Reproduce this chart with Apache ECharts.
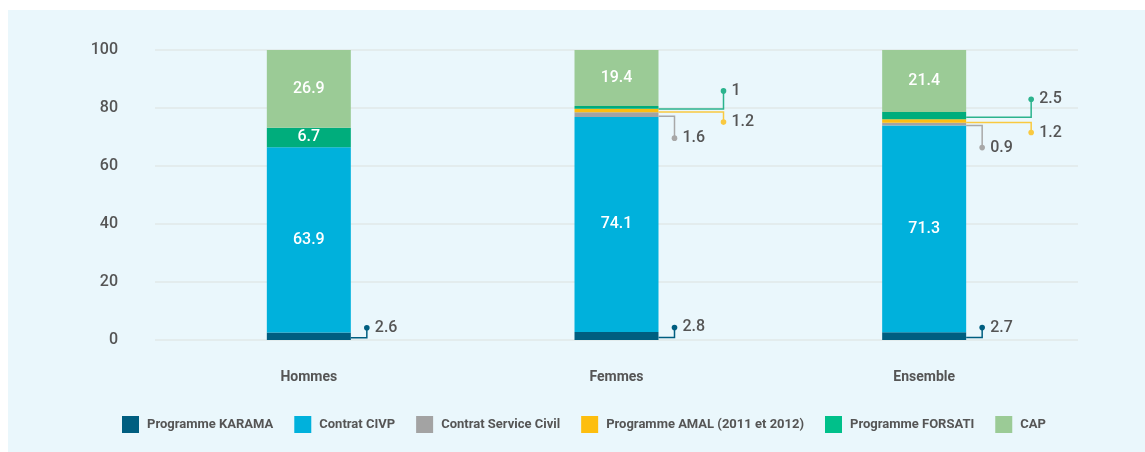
<!DOCTYPE html>
<html lang="fr">
<head>
<meta charset="UTF-8">
<title>Programmes</title>
<script src="https://cdn.jsdelivr.net/npm/echarts@6/dist/echarts.min.js"></script>
<style>
  html, body { margin: 0; padding: 0; background: #fff; }
  #chart { width: 1145px; height: 452px; }
</style>
</head>
<body>
<div id="chart"></div>
<script>
// Données
const categories = ['Hommes', 'Femmes', 'Ensemble'];
const seriesNames = ['Programme KARAMA', 'Contrat CIVP', 'Contrat Service Civil',
  'Programme AMAL (2011 et 2012)', 'Programme FORSATI', 'CAP'];
const karama = [2.6, 2.8, 2.7];
const civp = [63.9, 74.1, 71.3];
const serviceCivil = [0, 1.6, 0.9];
const amal = [0, 1.2, 1.2];
const forsati = [6.7, 1, 2.5];
const cap = [26.9, 19.4, 21.4];
const yTicks = [0, 20, 40, 60, 80, 100];

// Style
const FONT = 'Roboto, "DejaVu Sans Condensed", sans-serif';
const TEXT = '#555';
const colors = ['#005e80', '#00b1dc', '#a3a3a3', '#fdbe0f', '#00ad7c', '#9bcb96'];
const legendColors = ['#005e80', '#00b1dc', '#a3a3a3', '#fdbe0f', '#00c08a', '#9bcb96'];
const lineColors = ['#005e80', '#00b1dc', '#a8a8a8', '#f9c940', '#2bb38d', '#9bcb96'];
const BAR_W = 84;
// callout layout (px) per series index: horizontal reach from bar edge, vertical offset of the dot
const calloutLayout = {
  0: { reach: 16, dy: -10 },
  2: { reach: 16, dy: 22 },
  3: { reach: 65, dy: 10 },
  4: { reach: 65, dy: -18 }
};

const allValues = [karama, civp, serviceCivil, amal, forsati, cap];

// petites valeurs -> annotations
const calloutData = [];
categories.forEach((c, ci) => {
  let base = 0;
  allValues.forEach((vals, si) => {
    const v = vals[ci];
    if (v > 0 && v < 5 && calloutLayout[si]) {
      calloutData.push([ci, base, base + v, si, v]);
    }
    base += v;
  });
});

const barSeries = allValues.map((vals, si) => ({
  name: seriesNames[si],
  type: 'bar',
  stack: 'total',
  barWidth: BAR_W,
  data: vals,
  itemStyle: { color: colors[si] },
  label: {
    show: true,
    position: 'inside',
    color: '#fff',
    fontFamily: FONT,
    fontSize: 16,
    fontWeight: 500,
    formatter: p => (p.value >= 5 ? String(p.value) : '')
  },
  emphasis: { disabled: true }
}));

const calloutSeries = {
  type: 'custom',
  name: 'callouts',
  data: calloutData,
  encode: { x: 0, y: 1 },
  clip: false,
  z: 5,
  silent: true,
  renderItem: (params, api) => {
    const ci = api.value(0);
    const mid = (api.value(1) + api.value(2)) / 2;
    const si = api.value(3);
    const val = api.value(4);
    const p = api.coord([ci, mid]);
    const L = calloutLayout[si];
    const x0 = p[0] + BAR_W / 2;
    const y0 = p[1] + 1.5;
    const x1 = x0 + L.reach;
    const y1 = y0 + L.dy;
    const col = lineColors[si];
    return {
      type: 'group',
      children: [
        { type: 'polyline', shape: { points: [[x0, y0], [x1, y0], [x1, y1]] },
          style: { stroke: col, lineWidth: 1.5, fill: null } },
        { type: 'circle', shape: { cx: x1, cy: y1, r: 2.8 }, style: { fill: col } },
        { type: 'text', style: { text: String(val), x: x1 + 8, y: y1,
          verticalAlign: 'middle', fill: TEXT, fontSize: 16, fontWeight: 500, fontFamily: FONT } }
      ]
    };
  }
};

const chart = echarts.init(document.getElementById('chart'));
chart.setOption({
  backgroundColor: '#eaf7fc',
  animation: false,
  graphic: [
    { type: 'rect', shape: { x: 0, y: 0, width: 1145, height: 10 }, style: { fill: '#fff' } },
    { type: 'rect', shape: { x: 0, y: 0, width: 8, height: 452 }, style: { fill: '#fff' } }
  ],
  grid: { left: 155, right: 67, top: 50, bottom: 112 },
  legend: {
    top: 411,
    left: 117,
    icon: 'rect',
    itemWidth: 17,
    itemHeight: 17,
    itemGap: 21,
    selectedMode: false,
    data: seriesNames.map((n, i) => ({ name: n, itemStyle: { color: legendColors[i] } })),
    textStyle: { color: TEXT, fontFamily: FONT, fontSize: 13, fontWeight: 'bold', padding: [0, 0, 0, 3] }
  },
  xAxis: {
    type: 'category',
    data: categories,
    axisLine: { show: false },
    axisTick: { show: false },
    axisLabel: { color: TEXT, fontFamily: FONT, fontSize: 14, fontWeight: 'bold', margin: 30 }
  },
  yAxis: {
    type: 'value',
    min: yTicks[0],
    max: yTicks[yTicks.length - 1],
    interval: yTicks[1] - yTicks[0],
    axisLine: { show: false },
    axisTick: { show: false },
    splitLine: { lineStyle: { color: '#e1e8e9', width: 1.5 } },
    axisLabel: { color: TEXT, fontFamily: FONT, fontSize: 16, fontWeight: 500, margin: 37 }
  },
  series: [...barSeries, calloutSeries]
});
</script>
</body>
</html>
